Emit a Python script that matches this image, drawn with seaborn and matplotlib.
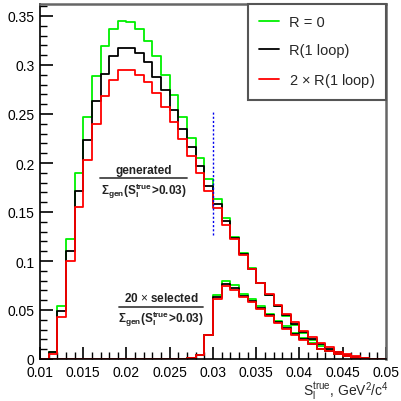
import numpy as np
import pandas as pd
import matplotlib
matplotlib.use("Agg")
import matplotlib.pyplot as plt
import seaborn as sns
from matplotlib.lines import Line2D
from matplotlib.ticker import MultipleLocator, FuncFormatter

# ---------------- data ----------------
bin_edges = [round(0.010 + 0.001 * i, 3) for i in range(41)]

gen_r0 = [0, 0.007, 0.054, 0.122, 0.190, 0.247, 0.289, 0.319, 0.337, 0.345,
          0.344, 0.337, 0.324, 0.309, 0.290, 0.269, 0.247, 0.226, 0.205, 0.184,
          0.163, 0.144, 0.125, 0.108, 0.093, 0.078, 0.065, 0.054, 0.044, 0.035,
          0.0265, 0.019, 0.0135, 0.0095, 0.006, 0.0035, 0.0018, 0.0008, 0.0003, 0.0001]
gen_r1 = [0, 0.007, 0.049, 0.110, 0.171, 0.223, 0.263, 0.291, 0.309, 0.317,
          0.317, 0.312, 0.303, 0.288, 0.274, 0.254, 0.235, 0.216, 0.197, 0.177,
          0.158, 0.141, 0.1235, 0.107, 0.092, 0.078, 0.0655, 0.0545, 0.045, 0.036,
          0.028, 0.0205, 0.0148, 0.0105, 0.0068, 0.004, 0.002, 0.001, 0.0004, 0.0001]
gen_r2 = [0, 0.005, 0.043, 0.100, 0.155, 0.203, 0.240, 0.268, 0.285, 0.295,
          0.295, 0.290, 0.283, 0.271, 0.257, 0.2415, 0.224, 0.2075, 0.190, 0.171,
          0.154, 0.137, 0.122, 0.106, 0.092, 0.078, 0.066, 0.055, 0.046, 0.0375,
          0.029, 0.022, 0.016, 0.012, 0.0075, 0.005, 0.003, 0.0013, 0.0005, 0.0002]

sel_r0 = [0] * 17 + [0.0015, 0.004, 0.0245, 0.0655, 0.080, 0.0755, 0.066, 0.061,
                     0.054, 0.046, 0.039, 0.0334, 0.027, 0.021, 0.016, 0.010,
                     0.0080, 0.0055, 0.0027, 0.001, 0.0004, 0.0001, 0]
sel_r1 = [0] * 17 + [0.0015, 0.004, 0.024, 0.0636, 0.077, 0.0724, 0.0645, 0.0595,
                     0.0525, 0.0445, 0.038, 0.032, 0.0258, 0.0203, 0.0153, 0.0098,
                     0.0078, 0.0053, 0.0026, 0.001, 0.0004, 0.0001, 0]
sel_r2 = [0] * 17 + [0.0015, 0.004, 0.024, 0.061, 0.0745, 0.0707, 0.063, 0.0585,
                     0.051, 0.0435, 0.0367, 0.0306, 0.0248, 0.0198, 0.015, 0.0098,
                     0.0078, 0.0055, 0.0028, 0.0012, 0.0005, 0.0002, 0]

labels = ["R = 0", "R(1 loop)", r"2 $\times$ R(1 loop)"]
colors = ["#00f000", "#000000", "#ff0000"]

cut_x = [0.030, 0.030]
cut_y = [0.127, 0.254]

# ---------------- style ----------------
sns.set_theme(style="ticks")
plt.rcParams["font.family"] = ["Liberation Sans", "DejaVu Sans"]
plt.rcParams["mathtext.fontset"] = "custom"
plt.rcParams["mathtext.rm"] = "Liberation Sans"
plt.rcParams["mathtext.it"] = "Liberation Sans"
plt.rcParams["mathtext.bf"] = "Liberation Sans:bold"

fig = plt.figure(figsize=(4.02, 4.02), dpi=100)
ax = fig.add_axes([40 / 402, 1 - 360 / 402, 346 / 402, 355 / 402])

centers = [(bin_edges[i] + bin_edges[i + 1]) / 2 for i in range(40)]
series = [(gen_r0, sel_r0), (gen_r1, sel_r1), (gen_r2, sel_r2)]
for (g, s), lab, col in zip(series, labels, colors):
    df = pd.DataFrame({"x": centers, "g": g, "s": s})
    sns.histplot(data=df, x="x", weights="g", bins=bin_edges, element="step",
                 fill=False, color=col, linewidth=1.3, label=lab, ax=ax)
    sns.histplot(data=df, x="x", weights="s", bins=bin_edges, element="step",
                 fill=False, color=col, linewidth=1.3, ax=ax)

ax.plot(cut_x, cut_y, color="#0000ee", linestyle=(0, (1.5, 1.5)), linewidth=1.0)

ax.set_xlim(0.01, 0.05)
ax.set_ylim(0, 355 / 980)
ax.set_xlabel("")
ax.set_ylabel("")

ax.xaxis.set_major_locator(MultipleLocator(0.005))
ax.xaxis.set_minor_locator(MultipleLocator(0.001))
ax.yaxis.set_major_locator(MultipleLocator(0.05))
ax.yaxis.set_minor_locator(MultipleLocator(0.01))
fmt = FuncFormatter(lambda v, p: ("%g" % round(v, 4)))
ax.xaxis.set_major_formatter(fmt)
ax.yaxis.set_major_formatter(fmt)
ax.tick_params(axis="both", which="major", direction="in", length=9, width=1.2,
               labelsize=10, color="black", labelcolor="black")
ax.tick_params(axis="both", which="minor", direction="in", length=5, width=1.0,
               color="black")
ax.tick_params(axis="x", which="major", pad=4)
ax.tick_params(axis="y", which="major", pad=4)

for side in ["top", "right"]:
    ax.spines[side].set_visible(True)
    ax.spines[side].set_color("#666666")
    ax.spines[side].set_linewidth(1.8)
for side in ["left", "bottom"]:
    ax.spines[side].set_color("black")
    ax.spines[side].set_linewidth(1.2)

leg = ax.legend(loc="upper right", bbox_to_anchor=(1.0, 1.0), borderaxespad=0,
                fontsize=10.5, frameon=True, fancybox=False, handlelength=1.35,
                handletextpad=0.7, labelspacing=0.95, borderpad=0.75,
                edgecolor="#555555", framealpha=1)
leg.get_frame().set_linewidth(1.5)

fig.text(389 / 402, 1 - 396 / 402, r"$\mathregular{S_{l}^{true}}$, GeV$^{2}$/c$^{4}$",
         ha="right", va="baseline", fontsize=10)

# fraction annotations
def fraction(xc, yline, x0, x1, num):
    fig.text(xc / 402, 1 - (yline - 2) / 402, num, ha="center", va="bottom",
             fontsize=8.5, fontweight="bold", color="#222222")
    fig.add_artist(Line2D([x0 / 402, x1 / 402], [1 - yline / 402, 1 - yline / 402],
                          color="#444444", linewidth=1.3))
    fig.text(xc / 402, 1 - (yline + 12) / 402,
             r"$\mathbf{\Sigma_{gen}(S_{l}^{true}\!>\!0.03)}$",
             ha="center", va="center", fontsize=8.5, color="#222222")

fraction(143.5, 179, 100, 187, "generated")
fraction(161, 307.5, 119, 203, r"20 $\times$ selected")

fig.savefig("out.png", dpi=100)
